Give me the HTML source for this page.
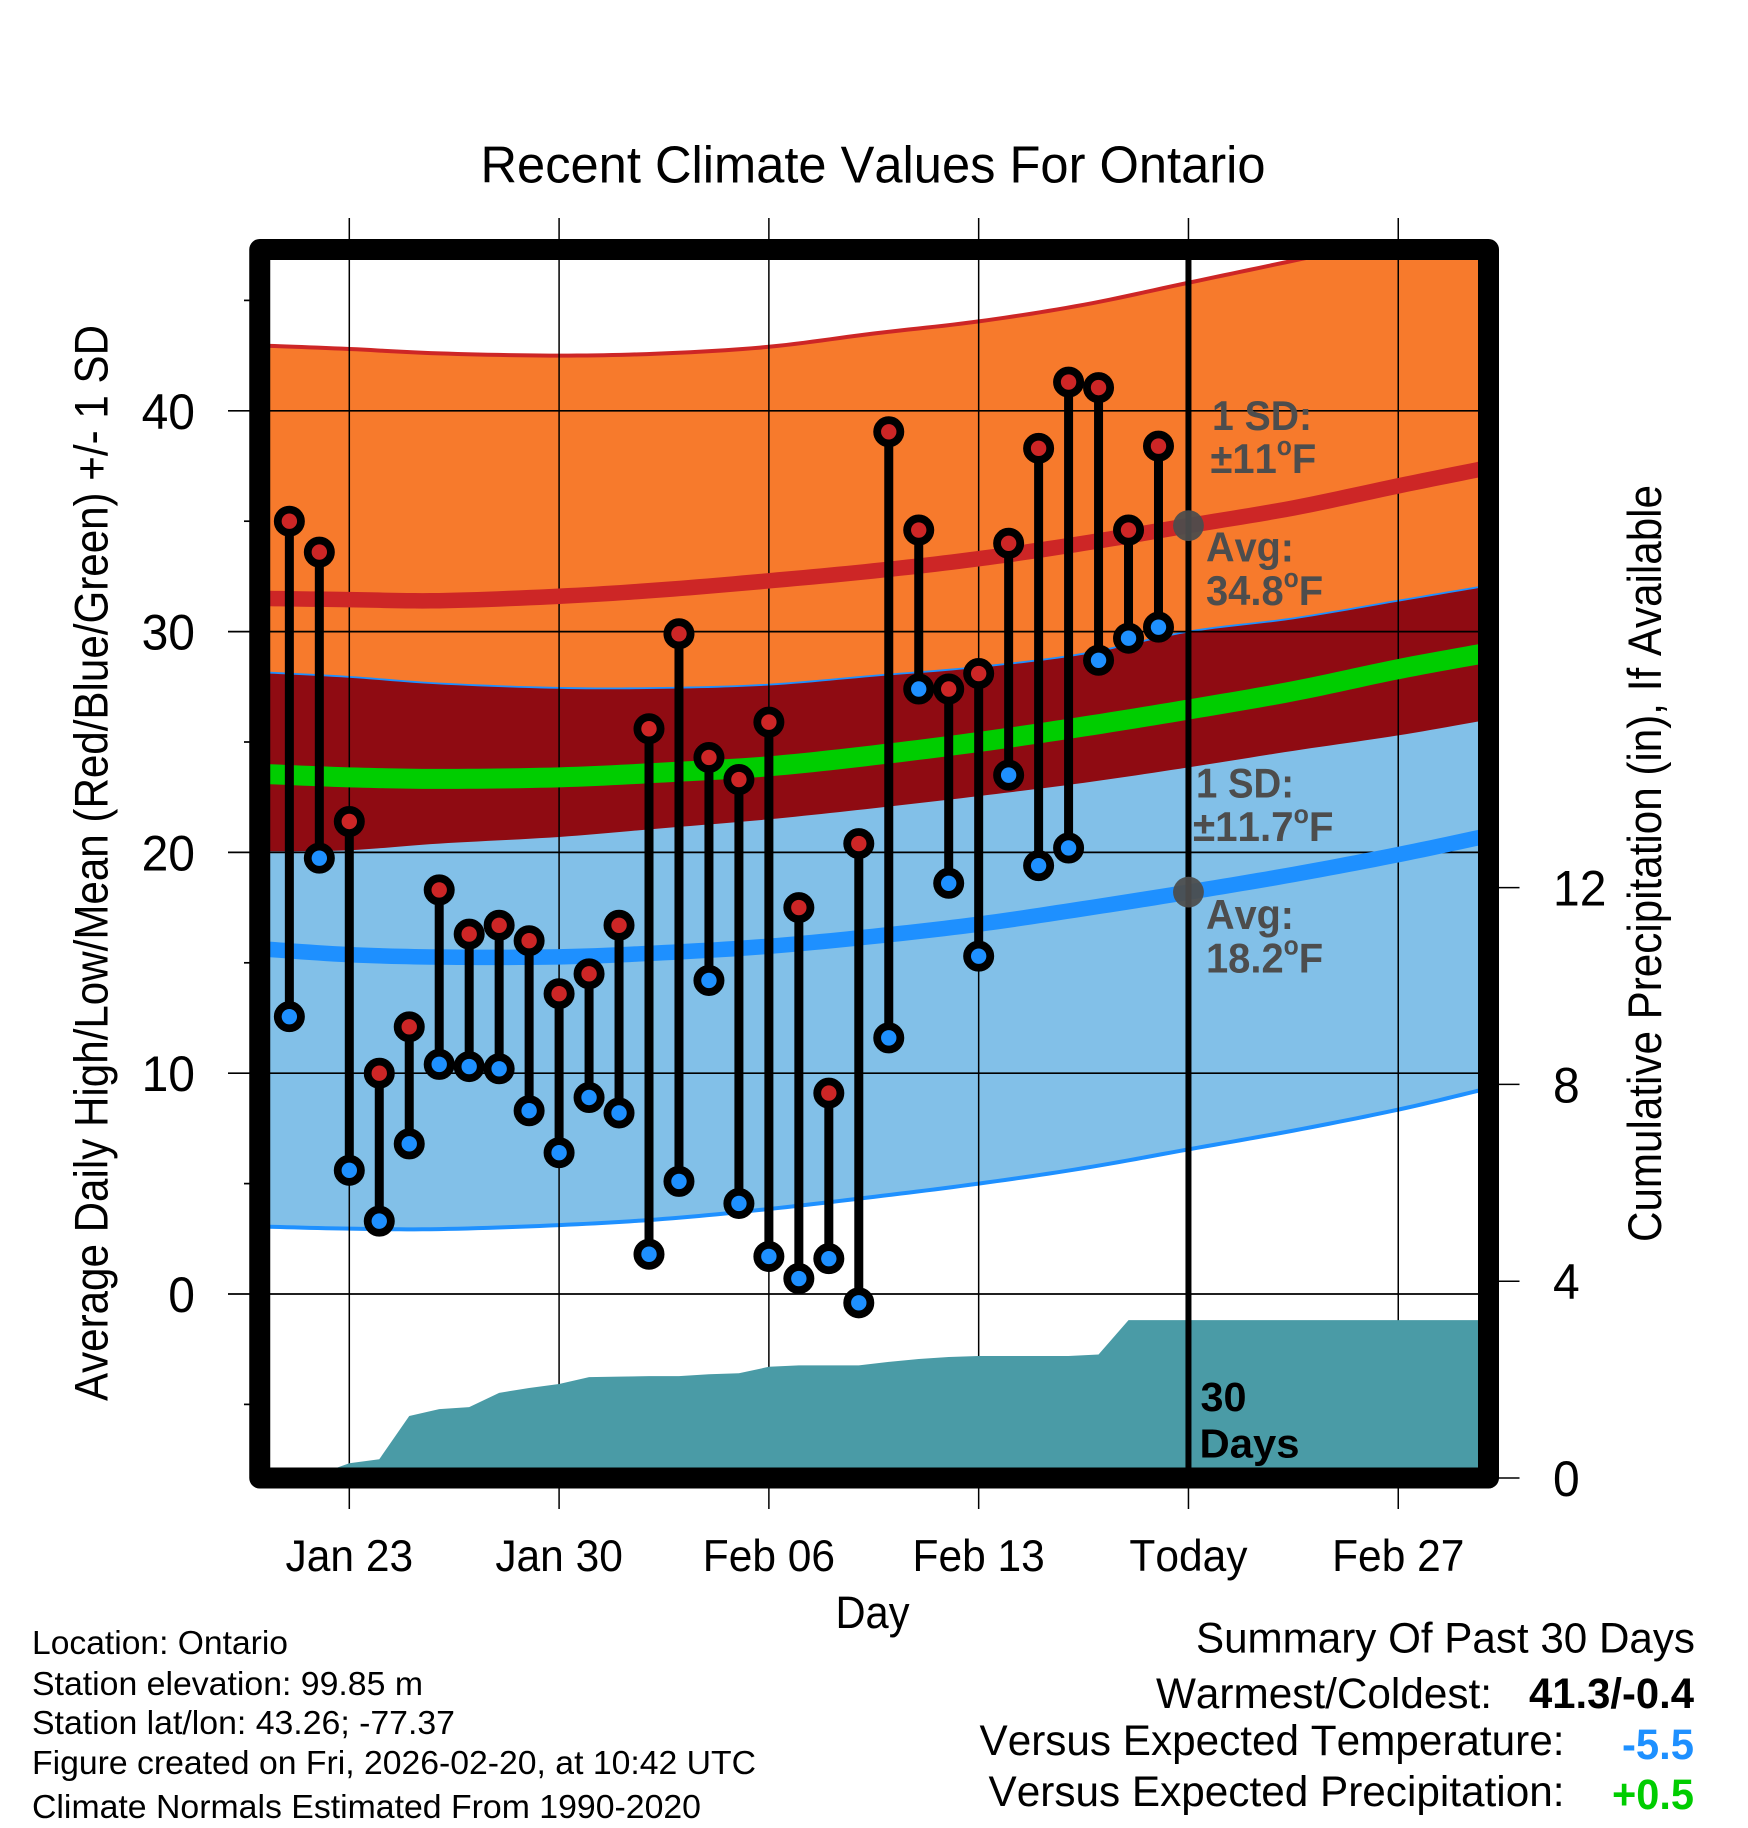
<!DOCTYPE html>
<html lang="en">
<head>
<meta charset="utf-8">
<title>Recent Climate Values For Ontario</title>
<style>
html,body{margin:0;padding:0;background:#fff;}
svg{display:block;font-family:"Liberation Sans",sans-serif;font-kerning:none;}
</style>
</head>
<body>
<svg id="chart" xmlns="http://www.w3.org/2000/svg" width="1748" height="1828" viewBox="0 0 1748 1828">
  <rect x="0" y="0" width="1748" height="1828" fill="#ffffff"/>
  <defs>
    <clipPath id="plot-clip"><rect x="270" y="260" width="1208" height="1208"/></clipPath>
  </defs>
  <g id="bands" clip-path="url(#plot-clip)"></g>
  <g id="grid"></g>
  <g id="means" clip-path="url(#plot-clip)"></g>
  <g id="precip" clip-path="url(#plot-clip)"></g>
  <g id="stems"></g>
  <g id="markers"></g>
  <g id="today"></g>
  <rect x="259.75" y="249.5" width="1228.75" height="1228.5" fill="none" stroke="#000" stroke-width="21" stroke-linejoin="round"/>
  <g id="tick-labels"></g>

  <text x="480.5" y="182.5" font-size="51.5" textLength="785" lengthAdjust="spacingAndGlyphs">Recent Climate Values For Ontario</text>
  <text x="835.5" y="1628" font-size="45" textLength="74" lengthAdjust="spacingAndGlyphs">Day</text>
  <text transform="translate(107.5,1401) rotate(-90)" font-size="47" textLength="1076" lengthAdjust="spacingAndGlyphs">Average Daily High/Low/Mean (Red/Blue/Green) +/- 1 SD</text>
  <text transform="translate(1661,1242) rotate(-90)" font-size="47" textLength="757" lengthAdjust="spacingAndGlyphs">Cumulative Precipitation (in), If Available</text>

  <g font-weight="bold" font-size="42" fill="#4d4d4d">
    <text x="1212" y="430" textLength="100" lengthAdjust="spacingAndGlyphs">1 SD:</text>
    <text transform="translate(1210.5,473) scale(.95,1)">±11<tspan font-size="26" dy="-18">o</tspan><tspan dy="18">F</tspan></text>
    <text x="1206" y="561.5" textLength="88" lengthAdjust="spacingAndGlyphs">Avg:</text>
    <text transform="translate(1206,605) scale(.95,1)">34.8<tspan font-size="26" dy="-18">o</tspan><tspan dy="18">F</tspan></text>
  </g>
  <g font-weight="bold" font-size="42" fill="#4d4d4d">
    <text x="1196" y="797.5" textLength="98" lengthAdjust="spacingAndGlyphs">1 SD:</text>
    <text transform="translate(1193,841) scale(.96,1)">±11.7<tspan font-size="26" dy="-18">o</tspan><tspan dy="18">F</tspan></text>
    <text x="1206" y="929" textLength="88" lengthAdjust="spacingAndGlyphs">Avg:</text>
    <text transform="translate(1206,972.5) scale(.95,1)">18.2<tspan font-size="26" dy="-18">o</tspan><tspan dy="18">F</tspan></text>
  </g>
  <g font-weight="bold" font-size="41" fill="#000">
    <text x="1200.5" y="1411" textLength="46" lengthAdjust="spacingAndGlyphs">30</text>
    <text x="1199.5" y="1457.5" textLength="100" lengthAdjust="spacingAndGlyphs">Days</text>
  </g>

  <g font-size="33" fill="#000">
    <text x="32" y="1654" textLength="256" lengthAdjust="spacingAndGlyphs">Location: Ontario</text>
    <text x="32" y="1695" textLength="391" lengthAdjust="spacingAndGlyphs">Station elevation: 99.85 m</text>
    <text x="32" y="1734" textLength="423" lengthAdjust="spacingAndGlyphs">Station lat/lon: 43.26; -77.37</text>
    <text x="32" y="1774" textLength="724" lengthAdjust="spacingAndGlyphs">Figure created on Fri, 2026-02-20, at 10:42 UTC</text>
    <text x="32" y="1818" textLength="669" lengthAdjust="spacingAndGlyphs">Climate Normals Estimated From 1990-2020</text>
  </g>

  <g font-size="43" fill="#000">
    <text x="1196" y="1652.5" textLength="499" lengthAdjust="spacingAndGlyphs">Summary Of Past 30 Days</text>
    <text x="1156" y="1708" textLength="336" lengthAdjust="spacingAndGlyphs">Warmest/Coldest:</text>
    <text x="1529" y="1708" font-weight="bold" textLength="165" lengthAdjust="spacingAndGlyphs">41.3/-0.4</text>
    <text x="979.5" y="1755" textLength="585" lengthAdjust="spacingAndGlyphs">Versus Expected Temperature:</text>
    <text x="1622" y="1759" font-weight="bold" fill="#1e90ff" textLength="72" lengthAdjust="spacingAndGlyphs">-5.5</text>
    <text x="988.5" y="1806" textLength="576" lengthAdjust="spacingAndGlyphs">Versus Expected Precipitation:</text>
    <text x="1612" y="1809" font-weight="bold" fill="#00cd00" textLength="82" lengthAdjust="spacingAndGlyphs">+0.5</text>
  </g>
</svg>

<script>
// Observation days, counted from Jan 0 (Feb 1 = 32)
const obsDays = [21,22,23,24,25,26,27,28,29,30,31,32,33,34,35,36,37,38,39,40,41,42,43,44,45,46,47,48,49,50];
const dailyHigh = [35.0,33.6,21.4,10.0,12.1,18.3,16.3,16.7,16.0,13.6,14.5,16.7,25.6,29.9,24.3,23.3,25.9,17.5,9.1,20.4,39.05,34.6,27.4,28.1,34.0,38.3,41.3,41.05,34.6,38.4];
const dailyLow = [12.56,19.74,5.6,3.3,6.8,10.4,10.3,10.2,8.3,6.4,8.9,8.2,1.8,5.1,14.2,4.1,1.7,0.7,1.6,-0.4,11.6,27.4,18.6,15.3,23.5,19.4,20.2,28.7,29.7,30.2];

// Cumulative precipitation in inches; the final value holds to the edge of the plot
const precipDays = [21,22,23,24,25,26,27,28,29,30,31,32,33,34,35,36,37,38,39,40,41,42,43,44,45,46,47,48,49,50,60.8];
const precipTotals = [0,0.08,0.30,0.38,1.26,1.40,1.44,1.73,1.83,1.91,2.05,2.06,2.07,2.07,2.11,2.13,2.26,2.29,2.29,2.29,2.36,2.42,2.46,2.48,2.48,2.48,2.48,2.51,3.21,3.21,3.21];

// Climatology curves read at these days
const climDays = [20.2,23,26,30,33.5,37,40.5,44,47.5,51,54.5,58,60.8];
const highUpper = [42.95,42.8,42.6,42.5,42.6,42.9,43.5,44.05,44.8,45.8,46.8,47.8,48.7];
const highMean = [31.5,31.45,31.4,31.6,31.9,32.3,32.75,33.3,34.0,34.8,35.6,36.6,37.37];
const highLower = [20.05,20.1,20.4,20.7,21.1,21.5,22.0,22.55,23.15,23.85,24.6,25.3,25.96];
const lowUpper = [28.15,27.95,27.65,27.45,27.45,27.6,28.0,28.4,29.0,30.0,30.6,31.4,32.04];
const lowMean = [15.62,15.37,15.26,15.27,15.46,15.75,16.2,16.75,17.45,18.2,19.0,19.9,20.7];
const lowLower = [3.05,2.96,2.94,3.12,3.4,3.85,4.4,5.0,5.7,6.55,7.4,8.35,9.25];
const overallMean = [23.55,23.4,23.33,23.4,23.62,23.9,24.4,25.0,25.7,26.47,27.3,28.3,29.0];

// Axes
const dayTicks = [23,30,37,44,51,58];
const dayTickLabels = ['Jan 23','Jan 30','Feb 06','Feb 13','Today','Feb 27'];
const tempTicks = [0,10,20,30,40];
const tempMinorTicks = [-5,5,15,25,35,45];
const precipTicks = [0,4,8,12];

// Today's reference values
const todayDay = 51;
const todayHighAvg = 34.8;
const todayLowAvg = 18.2;

function xDay(d){ return 349.3 + (d - 23) * 29.97; }
function yTemp(t){ return 1294 - t * 22.08; }
function yPrecip(p){ return 1478 - p * 49.2; }

const NS = 'http://www.w3.org/2000/svg';
function make(parent, tag, attrs, text){
  const el = document.createElementNS(NS, tag);
  for (const k in attrs) el.setAttribute(k, attrs[k]);
  if (text !== undefined) el.textContent = text;
  parent.appendChild(el);
  return el;
}
function curve(days, vals, scale){
  return days.map((d,i)=> xDay(d).toFixed(2)+','+scale(vals[i]).toFixed(2));
}
// Smooth rendering of a curve through its read values (Catmull-Rom between samples)
function smooth(days, vals){
  const out = [];
  const n = days.length;
  for (let i = 0; i < n - 1; i++){
    const x0 = xDay(days[Math.max(i-1,0)]), x1 = xDay(days[i]), x2 = xDay(days[i+1]), x3 = xDay(days[Math.min(i+2,n-1)]);
    const y0 = yTemp(vals[Math.max(i-1,0)]), y1 = yTemp(vals[i]), y2 = yTemp(vals[i+1]), y3 = yTemp(vals[Math.min(i+2,n-1)]);
    for (let s = 0; s < 12; s++){
      const t = s / 12, t2 = t * t, t3 = t2 * t;
      const x = 0.5 * (2*x1 + (x2-x0)*t + (2*x0-5*x1+4*x2-x3)*t2 + (3*x1-x0-3*x2+x3)*t3);
      const y = 0.5 * (2*y1 + (y2-y0)*t + (2*y0-5*y1+4*y2-y3)*t2 + (3*y1-y0-3*y2+y3)*t3);
      out.push(x.toFixed(2)+','+y.toFixed(2));
    }
  }
  out.push(xDay(days[n-1]).toFixed(2)+','+yTemp(vals[n-1]).toFixed(2));
  return out;
}
function ribbon(upper, lower){
  return smooth(climDays, upper).concat(smooth(climDays, lower).reverse()).join(' ');
}

const bands = document.getElementById('bands');
const grid = document.getElementById('grid');
const means = document.getElementById('means');
const precip = document.getElementById('precip');
const stems = document.getElementById('stems');
const markers = document.getElementById('markers');
const today = document.getElementById('today');
const tickLabels = document.getElementById('tick-labels');

const highBand = make(bands, 'polygon', {points: ribbon(highUpper, highLower), fill:'#f77a2c'});


const lowBand = make(bands, 'polygon', {points: ribbon(lowUpper, lowLower), fill:'#82c0e8'});


const overlapBand = make(bands, 'polygon', {points: ribbon(lowUpper, highLower), fill:'#8f0b12'});


const highEdge = make(bands, 'polyline', {points: smooth(climDays, highUpper).join(' '), fill:'none', stroke:'#cd2626', 'stroke-width':4});


const lowTopEdge = make(bands, 'polyline', {points: smooth(climDays, lowUpper).join(' '), fill:'none', stroke:'#1e90ff', 'stroke-width':1.8});


const lowBottomEdge = make(bands, 'polyline', {points: smooth(climDays, lowLower).join(' '), fill:'none', stroke:'#1e90ff', 'stroke-width':4});



dayTicks.forEach(function(d, i){
  const x = xDay(d);
  const line = make(grid, 'line', {x1:x, x2:x, y1:218, y2:1509, stroke:'#000', 'stroke-width':1.5});
  
  
  const label = make(tickLabels, 'text', {transform:'translate('+x+',1571) scale(.955,1)', 'text-anchor':'middle', 'font-size':44.5}, dayTickLabels[i]);
  
  
});
tempTicks.forEach(function(t){
  const y = yTemp(t);
  const line = make(grid, 'line', {x1:228, x2:1478, y1:y, y2:y, stroke:'#000', 'stroke-width':1.7});
  
  
  const label = make(tickLabels, 'text', {transform:'translate(195,'+(y+18)+') scale(.96,1)', 'text-anchor':'end', 'font-size':50}, String(t));
  
  
});
tempMinorTicks.forEach(function(t){
  const y = yTemp(t);
  const tick = make(grid, 'line', {x1:244, x2:250, y1:y, y2:y, stroke:'#000', 'stroke-width':1.7});
  
  
});
precipTicks.forEach(function(p){
  const y = yPrecip(p);
  const tick = make(grid, 'line', {x1:1498, x2:1519.5, y1:y, y2:y, stroke:'#000', 'stroke-width':1.5});
  
  
  const label = make(tickLabels, 'text', {transform:'translate(1553,'+(y+18)+') scale(.96,1)', 'font-size':50}, String(p));
  
  
});

const highLine = make(means, 'polyline', {points: smooth(climDays, highMean).join(' '), fill:'none', stroke:'#cd2626', 'stroke-width':15.5});


const lowLine = make(means, 'polyline', {points: smooth(climDays, lowMean).join(' '), fill:'none', stroke:'#1e90ff', 'stroke-width':15.5});


const avgLine = make(means, 'polyline', {points: smooth(climDays, overallMean).join(' '), fill:'none', stroke:'#00cd00', 'stroke-width':20});



const precipPts = curve(precipDays, precipTotals, yPrecip);
precipPts.unshift(xDay(precipDays[0]).toFixed(2)+','+yPrecip(0));
precipPts.push(xDay(precipDays[precipDays.length-1]).toFixed(2)+','+yPrecip(0));
const precipArea = make(precip, 'polygon', {points: precipPts.join(' '), fill:'#4a9ba6'});



obsDays.forEach(function(d, i){
  const x = xDay(d);
  const stem = make(stems, 'line', {x1:x, x2:x, y1:yTemp(dailyHigh[i]), y2:yTemp(dailyLow[i]), stroke:'#000', 'stroke-width':9});
  
  
  const hi = make(markers, 'circle', {cx:x, cy:yTemp(dailyHigh[i]), r:11.6, fill:'#cd2626', stroke:'#000', 'stroke-width':7.8});
  
  
  const lo = make(markers, 'circle', {cx:x, cy:yTemp(dailyLow[i]), r:11.6, fill:'#1e90ff', stroke:'#000', 'stroke-width':7.8});
  
  
});

const todayLine = make(today, 'line', {x1:xDay(todayDay), x2:xDay(todayDay), y1:260, y2:1468, stroke:'#000', 'stroke-width':6});


const highDot = make(today, 'circle', {cx:xDay(todayDay), cy:yTemp(todayHighAvg), r:15.4, fill:'#4d4d4d', 'fill-opacity':0.94});


const lowDot = make(today, 'circle', {cx:xDay(todayDay), cy:yTemp(todayLowAvg), r:15.4, fill:'#4d4d4d', 'fill-opacity':0.94});


</script>
</body>
</html>
